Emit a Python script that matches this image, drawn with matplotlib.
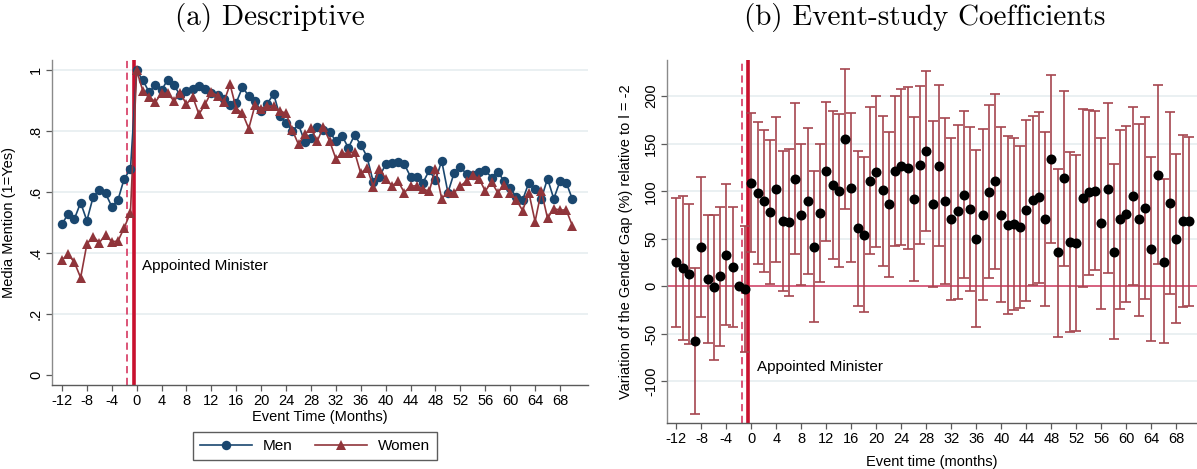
import matplotlib
matplotlib.use("Agg")
import matplotlib.pyplot as plt
from matplotlib.lines import Line2D
import numpy as np

plt.rcParams['font.family'] = ['Liberation Sans', 'DejaVu Sans']

# ---------------- data ----------------
months = list(range(-12, 71))

men = [0.496, 0.529, 0.513, 0.566, 0.507, 0.584, 0.608, 0.597, 0.553, 0.575, 0.645, 0.675,
       1.000, 0.967, 0.929, 0.951, 0.935, 0.970, 0.951, 0.918, 0.932, 0.940, 0.949,
       0.940, 0.927, 0.918, 0.905, 0.885, 0.894, 0.945, 0.916, 0.899, 0.867,
       0.891, 0.923, 0.850, 0.828, 0.801, 0.823, 0.765, 0.777, 0.814, 0.804,
       0.798, 0.768, 0.785, 0.746, 0.787, 0.756, 0.717, 0.634, 0.651, 0.692,
       0.697, 0.699, 0.692, 0.651, 0.651, 0.632, 0.672, 0.640, 0.703, 0.599,
       0.664, 0.683, 0.659, 0.656, 0.667, 0.673, 0.648, 0.668, 0.637, 0.615,
       0.583, 0.575, 0.632, 0.610, 0.579, 0.645, 0.579, 0.636, 0.632, 0.577]

women = [0.378, 0.397, 0.370, 0.320, 0.430, 0.455, 0.435, 0.460, 0.438, 0.440, 0.484, 0.533,
         1.000, 0.932, 0.914, 0.896, 0.925, 0.925, 0.899, 0.925, 0.889, 0.914, 0.856,
         0.889, 0.929, 0.916, 0.896, 0.954, 0.874, 0.859, 0.809, 0.885, 0.874,
         0.883, 0.883, 0.867, 0.859, 0.804, 0.757, 0.790, 0.810, 0.768, 0.814,
         0.768, 0.710, 0.728, 0.728, 0.733, 0.662, 0.681, 0.619, 0.678, 0.645,
         0.621, 0.636, 0.599, 0.621, 0.621, 0.610, 0.604, 0.675, 0.579, 0.601,
         0.599, 0.621, 0.637, 0.656, 0.645, 0.604, 0.634, 0.599, 0.623, 0.599,
         0.575, 0.540, 0.599, 0.504, 0.604, 0.515, 0.546, 0.542, 0.542, 0.490]

coef = [25.1, 19.1, 13.2, -57.0, 41.9, 7.5, -1.2, 10.4, 33.2, 20.2, 0.0, -3.0,
        108.9, 97.7, 90.0, 78.4, 101.9, 68.9, 67.2, 112.8, 75.3, 89.3, 41.6,
        76.7, 120.9, 106.1, 100.5, 155.3, 103.3, 61.2, 54.2, 111.0, 120.0,
        100.9, 86.5, 120.9, 126.8, 124.4, 91.8, 127.9, 142.6, 86.5, 126.8,
        89.3, 70.7, 78.8, 96.3, 81.6, 50.3, 75.3, 99.5, 110.3, 75.3,
        64.0, 65.5, 61.9, 79.8, 90.3, 93.5, 71.1, 133.9, 35.6, 113.5,
        46.5, 45.1, 92.4, 98.8, 100.5, 66.1, 102.6, 36.5, 70.7, 76.0,
        94.9, 70.7, 81.9, 39.1, 117.4, 26.1, 87.6, 50.0, 68.9, 68.2]

ci_hi = [92.4, 94.5, 86.8, 19.8, 115.3, 74.6, 74.6, 83.0, 107.6, 83.0, np.nan, 63.0,
         181.9, 172.4, 164.7, 153.8, 178.4, 141.9, 144.4, 192.5, 149.6, 166.5, 121.6,
         149.6, 193.9, 184.0, 181.2, 228.9, 182.3, 142.6, 136.0, 188.2, 199.8,
         179.5, 162.3, 199.8, 207.9, 209.3, 177.7, 211.0, 226.8, 173.5, 212.1,
         177.0, 156.0, 170.0, 184.7, 167.5, 143.0, 165.0, 190.3, 202.3, 167.5,
         157.7, 155.6, 147.2, 174.5, 179.5, 183.7, 162.3, 221.9, 123.7, 205.5,
         140.8, 137.7, 186.5, 185.1, 184.0, 155.6, 192.5, 129.0, 164.0, 169.0,
         189.0, 171.0, 178.0, 135.6, 211.4, 112.8, 183.0, 139.2, 159.5, 156.7]

ci_lo = [-43.0, -56.3, -60.5, -133.9, -31.8, -59.8, -77.4, -62.6, -40.5, -43.0, np.nan, -68.6,
         36.0, 23.0, 14.6, 2.6, 25.1, -4.7, -10.0, 33.5, 0.9, 12.8, -37.7,
         4.4, 47.9, 28.6, 20.2, 81.6, 25.1, -20.5, -26.5, 33.5, 41.2,
         21.9, 10.3, 42.6, 43.7, 39.5, 5.1, 44.7, 58.4, -1.2, 42.3,
         2.6, -14.2, -13.5, 8.6, -4.7, -43.0, -14.2, 8.3, 18.1, -16.7,
         -28.9, -25.1, -23.0, -14.9, 0.9, 3.3, -20.2, 46.1, -52.8, 21.9,
         -47.5, -46.5, -0.9, 12.4, 17.0, -23.7, 13.8, -55.6, -23.3, -16.7,
         0.9, -30.7, -13.5, -57.0, 23.3, -59.8, -7.9, -38.1, -21.2, -20.2]

xticks = list(range(-12, 69, 4))
left_yticks = [0, 0.2, 0.4, 0.6, 0.8, 1.0]
left_yticklabels = ['0', '.2', '.4', '.6', '.8', '1']
right_yticks = [-100, -50, 0, 50, 100, 150, 200]

# ---------------- style ----------------
NAVY = '#1a476f'
MAROON = '#90353b'
CRIMSON = '#c8102e'
DASHRED = '#d9466c'
GRID = '#e6eef0'
SPINE = '#5a5a5a'
ERR = '#a6464f'

W, H = 1197, 469
fig = plt.figure(figsize=(W / 100, H / 100), dpi=100)

def style_axes(ax):
    for s in ['top', 'right']:
        ax.spines[s].set_visible(False)
    ax.spines['left'].set_color('#8a8a8a')
    ax.spines['bottom'].set_color(SPINE)
    ax.spines['left'].set_linewidth(1.0)
    ax.spines['bottom'].set_linewidth(1.0)
    ax.tick_params(axis='both', direction='out', length=4.5, width=0.9,
                   color=SPINE, labelsize=10.5, labelcolor='black', pad=2)

# ---------------- left panel ----------------
axL = fig.add_axes([52 / W, 1 - 385 / H, 536 / W, 325 / H])
style_axes(axL)
axL.set_xlim(-13.6, 72.5)
axL.set_ylim(-0.032, 1.034)
for yv in left_yticks[1:]:
    axL.axhline(yv, color=GRID, lw=1.2, zorder=0)
axL.set_xticks(xticks)
axL.set_xticklabels([str(t) for t in xticks])
axL.set_yticks(left_yticks)
axL.set_yticklabels(left_yticklabels)
for lab in axL.get_yticklabels():
    lab.set_rotation(90)
    lab.set_va('center')

axL.axvline(-1.5, color=DASHRED, lw=1.3, dashes=(4, 2.5), zorder=1)
axL.axvline(-0.5, color=CRIMSON, lw=2.6, zorder=1)

axL.plot(months, men, color=NAVY, lw=1.2, marker='o', markersize=6.8,
         markeredgewidth=0, zorder=3)
axL.plot(months, women, color=MAROON, lw=1.2, marker='^', markersize=7.5,
         markeredgewidth=0, zorder=4)
axL.text(0.85, 0.358, 'Appointed Minister', fontsize=11, ha='left', va='center')

axL.set_xlabel('Event Time (Months)', fontsize=10.5)
axL.xaxis.set_label_coords(0.5, -0.078)
axL.set_ylabel('Media Mention (1=Yes)', fontsize=10.5)
axL.yaxis.set_label_coords(-0.068, 0.5)

handles = [Line2D([], [], color=NAVY, lw=1.2, marker='o', markersize=6.8, markeredgewidth=0),
           Line2D([], [], color=MAROON, lw=1.2, marker='^', markersize=7.5, markeredgewidth=0)]
leg = fig.legend(handles, ['Men', 'Women'], loc='center', ncol=2,
                 bbox_to_anchor=(315 / W, 1 - 446 / H), frameon=True, fancybox=False,
                 fontsize=11, handlelength=3.4, columnspacing=1.5, handletextpad=0.7,
                 borderpad=0.45, edgecolor='#333333')
leg.get_frame().set_linewidth(1.0)

# ---------------- right panel ----------------
axR = fig.add_axes([667 / W, 1 - 423.3 / H, (W - 667) / W, 363.3 / H])
style_axes(axR)
axR.set_xlim(-13.5, 71.3)
axR.set_ylim(-144, 238)
for yv in right_yticks:
    if yv != 0:
        axR.axhline(yv, color=GRID, lw=1.2, zorder=0)
axR.axhline(0, color='#d0456a', lw=1.2, zorder=1)
axR.set_xticks(xticks)
axR.set_xticklabels([str(t) for t in xticks])
axR.set_yticks(right_yticks)
axR.set_yticklabels([str(t) for t in right_yticks])
for lab in axR.get_yticklabels():
    lab.set_rotation(90)
    lab.set_va('center')

axR.axvline(-1.5, color=DASHRED, lw=1.3, dashes=(4, 2.5), zorder=1)
axR.axvline(-0.5, color=CRIMSON, lw=2.6, zorder=1)

m_arr = np.array(months, dtype=float)
c_arr = np.array(coef)
lo = np.array(ci_lo)
hi = np.array(ci_hi)
ok = ~np.isnan(lo)
axR.errorbar(m_arr[ok], c_arr[ok], yerr=[c_arr[ok] - lo[ok], hi[ok] - c_arr[ok]],
             fmt='none', ecolor=ERR, elinewidth=1.2, capsize=3.3, capthick=1.2, zorder=2)
axR.scatter(m_arr, c_arr, s=52, color='black', zorder=3, linewidths=0)
axR.text(0.85, -84.5, 'Appointed Minister', fontsize=11, ha='left', va='center')

axR.set_xlabel('Event time (months)', fontsize=10.5)
axR.xaxis.set_label_coords(0.5, -0.088)
axR.set_ylabel('Variation of the Gender Gap (%) relative to l = -2', fontsize=10.5)
axR.yaxis.set_label_coords(-0.065, 0.5)

# ---------------- titles ----------------
fig.text(270 / W, 1 - 18 / H, '(a) Descriptive', family='cmr10', fontsize=21,
         ha='center', va='center')
fig.text(925 / W, 1 - 18 / H, '(b) Event-study Coefficients', family='cmr10', fontsize=21,
         ha='center', va='center')

fig.savefig('out.png', dpi=100)
